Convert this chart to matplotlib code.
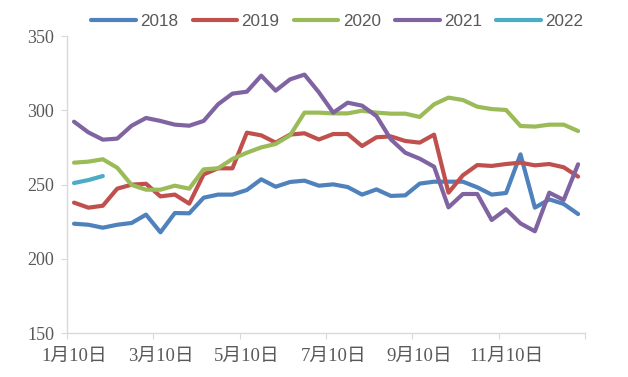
import matplotlib
matplotlib.use("Agg")
import matplotlib.pyplot as plt
import numpy as np

years = ["2018", "2019", "2020", "2021", "2022"]
colors = ["#4F81BD", "#C0504D", "#9BBB59", "#8064A2", "#4BACC6"]

v2018 = [223.6, 222.9, 220.9, 222.9, 224.1, 229.7, 217.8, 230.8, 230.6, 241.1,
         243.2, 243.2, 246.3, 253.5, 248.5, 251.7, 252.6, 249.2, 250.1, 248.3,
         243.2, 246.7, 242.3, 242.7, 250.6, 251.9, 251.9, 251.9, 248.1, 243.2,
         244.3, 270.3, 234.4, 240.0, 236.9, 230.1]
v2019 = [237.8, 234.4, 235.7, 247.2, 249.9, 250.5, 242.0, 243.2, 237.1, 256.8,
         260.9, 260.9, 284.9, 283.1, 278.2, 283.6, 284.5, 280.3, 284.0, 284.0,
         275.9, 281.8, 282.4, 279.3, 278.2, 283.6, 244.5, 256.2, 263.1, 262.5,
         263.8, 264.7, 262.9, 263.8, 261.6, 255.3]
v2020 = [264.7, 265.4, 267.0, 261.3, 249.7, 246.5, 246.5, 249.2, 247.2, 260.2,
         260.9, 267.2, 271.4, 275.0, 277.3, 283.1, 298.4, 298.4, 297.9, 297.9,
         299.7, 298.4, 297.7, 297.7, 295.5, 304.0, 308.5, 306.9, 302.4, 300.8,
         300.2, 289.4, 289.0, 290.3, 290.3, 286.0]
v2021 = [292.3, 285.1, 280.2, 280.9, 289.6, 294.8, 292.8, 290.3, 289.6, 292.8,
         304.0, 311.2, 312.5, 323.3, 313.2, 320.8, 324.0, 312.1, 298.4, 305.1,
         303.1, 296.1, 280.4, 271.4, 267.4, 262.0, 234.6, 243.6, 243.6, 226.1,
         233.3, 223.8, 218.5, 244.5, 239.6, 263.6]
v2022 = [251.0, 253.0, 255.7]

series = [v2018, v2019, v2020, v2021, v2022]

tick_labels = ["1月10日", "3月10日", "5月10日", "7月10日", "9月10日", "11月10日"]
label_pos = [0, 6, 12, 18, 24, 30]
n_cat = 36

fig = plt.figure(figsize=(6.28, 3.77), dpi=100)
ax = fig.add_axes([0.1064, 0.1167, 0.932 - 0.1064, 0.9045 - 0.1167])

for name, vals, c in zip(years, series, colors):
    ax.plot(np.arange(len(vals)), vals, color=c, lw=3.0, label=name,
            solid_capstyle="round", solid_joinstyle="round")

ax.set_xlim(-0.5, n_cat - 0.5)
ax.set_ylim(150, 350)
ax.set_yticks([150, 200, 250, 300, 350])

ax.set_xticks(np.arange(-0.5, n_cat, 6))
ax.set_xticklabels([])
ax.set_xticks(label_pos, minor=True)
ax.set_xticklabels(tick_labels, minor=True,
                   family=["Liberation Serif", "Noto Sans CJK SC"], fontsize=13.5,
                   color="#595959")
ax.tick_params(axis="x", which="minor", length=0, pad=11)
ax.tick_params(axis="x", which="major", length=4, color="#D9D9D9", direction="out")
ax.tick_params(axis="y", length=4, color="#D9D9D9", direction="out", pad=5,
               labelsize=13, labelcolor="#595959")
for t in ax.get_yticklabels():
    t.set_family("Liberation Serif")

for s in ["top", "right"]:
    ax.spines[s].set_visible(False)
for s in ["left", "bottom"]:
    ax.spines[s].set_color("#D9D9D9")
    ax.spines[s].set_linewidth(1.0)

leg = fig.legend(loc="center", bbox_to_anchor=(0.537, 0.944), ncol=5,
                 frameon=False, prop={"family": "Liberation Sans", "size": 12.3},
                 handlelength=2.6, handletextpad=0.25, columnspacing=0.85)
for t in leg.get_texts():
    t.set_color("#595959")

fig.savefig("out.png", dpi=100)
